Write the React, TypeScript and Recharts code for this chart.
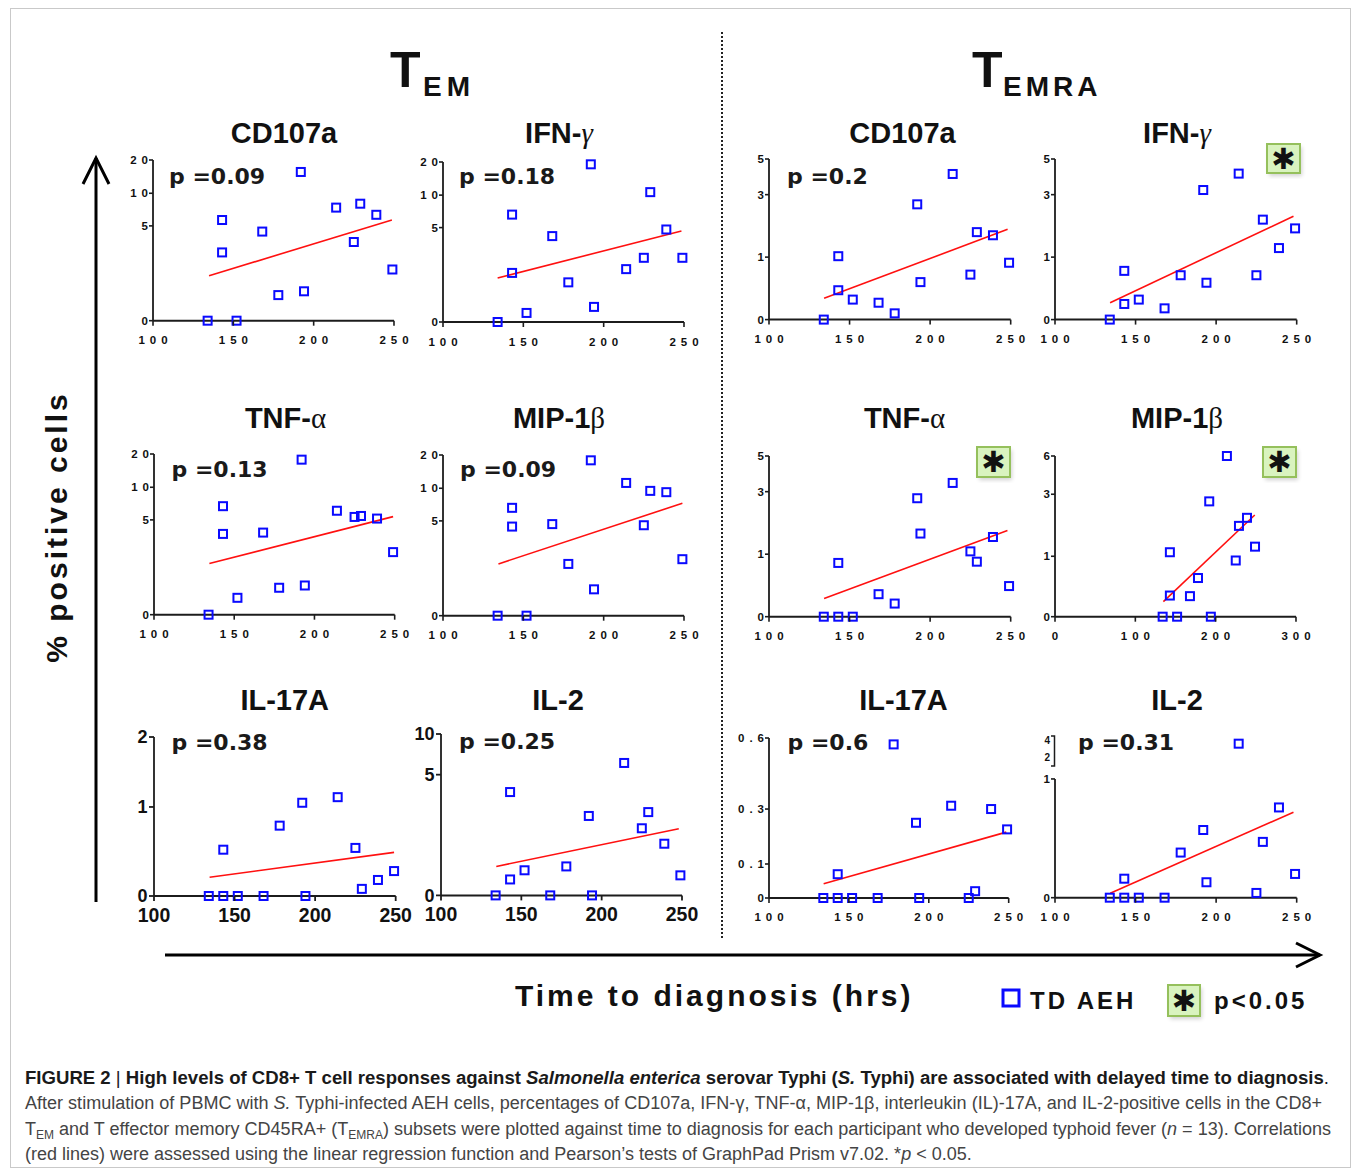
import React from 'react';
import { ScatterChart, Scatter, XAxis, YAxis, ReferenceLine } from 'recharts';

// ---------- DATA ----------
const TIME_HRS = [134, 143, 143, 152, 168, 178, 192, 194, 214, 225, 229, 239, 249];

const TEM_CD107A = [0, 5.9, 3.6, 0, 4.7, 1.35, 16.4, 1.55, 7.8, 4.15, 8.4, 6.7, 2.7];
const TEM_IFNG = [0, 7.0, 2.6, 0.48, 4.55, 2.1, 19.3, 0.8, 2.8, 3.4, 10.9, 4.9, 3.4];
const TEMRA_CD107A = [0, 1.03, 0.47, 0.32, 0.27, 0.1, 2.69, 0.6, 4.16, 0.72, 1.8, 1.7, 0.91];
const TEMRA_IFNG = [0, 0.78, 0.25, 0.32, 0.18, 0.71, 3.26, 0.59, 4.18, 0.71, 2.2, 1.29, 1.92];
const TEM_TNFA = [0, 7.1, 4.26, 0.89, 4.33, 1.42, 18.3, 1.54, 6.4, 5.45, 5.6, 5.2, 3.3];
const TEM_MIP1B = [0, 7.0, 4.7, 0, 4.83, 2.73, 18.4, 1.39, 11.6, 4.77, 9.6, 9.4, 2.98];
const TEMRA_TNFA = [0, 0.86, 0, 0, 0.36, 0.21, 2.79, 1.66, 3.49, 1.09, 0.88, 1.55, 0.49];
const TEMRA_MIP1B = [0, 1.13, 0.35, 0, 0.34, 0.64, 2.77, 0, 6.0, 0.93, 1.98, 2.24, 1.31];
const TEM_IL17A = [0, 0, 0.52, 0, 0, 0.79, 1.06, 0, 1.14, 0.54, 0.08, 0.18, 0.28];
const TEM_IL2 = [0, 0.66, 4.28, 1.04, 0, 1.2, 3.29, 0, 6.44, 2.78, 3.45, 2.14, 0.83];
const TEMRA_IL17A = [0, 0, 0.07, 0, 0, 0.573, 0.25, 0, 0.314, 0, 0.02, 0.3, 0.226];
const TEMRA_IL2 = [0, 0, 0.16, 0, 0, 0.38, 0.57, 0.13, 3.56, 0.04, 0.47, 0.76, 0.2];

// regression line end points: [x start, x end], [y start, y end]
const FIT_TEM_CD107A = { x: [134.9, 248.7], y: [2.37, 5.9] };
const FIT_TEM_IFNG = { x: [134, 248.4], y: [2.33, 4.82] };
const FIT_TEMRA_CD107A = { x: [134.2, 248.1], y: [0.34, 1.89] };
const FIT_TEMRA_IFNG = { x: [134.2, 248], y: [0.27, 2.31] };
const FIT_TEM_TNFA = { x: [134.5, 249], y: [2.7, 5.5] };
const FIT_TEM_MIP1B = { x: [134.5, 249], y: [2.73, 7.7] };
const FIT_TEMRA_TNFA = { x: [134.2, 248], y: [0.29, 1.76] };
const FIT_TEMRA_MIP1B = { x: [134.9, 248.7], y: [0.25, 2.33] };
const FIT_TEM_IL17A = { x: [134.5, 249], y: [0.21, 0.49] };
const FIT_TEM_IL2 = { x: [134.4, 248], y: [1.2, 2.76] };
const FIT_TEMRA_IL17A = { x: [134.2, 248.5], y: [0.042, 0.216] };
const FIT_TEMRA_IL2 = { x: [134.3, 248], y: [0.037, 0.72] };

const X_TICKS = [100, 150, 200, 250];
const X_TICKS_300 = [0, 100, 200, 300];
const Y_TICKS_20 = [0, 5, 10, 20];
const Y_TICKS_5 = [0, 1, 3, 5];
const Y_TICKS_6 = [0, 1, 3, 6];
const Y_TICKS_2 = [0, 1, 2];
const Y_TICKS_10 = [0, 5, 10];
const Y_TICKS_06 = [0, 0.1, 0.3, 0.6];
const Y_TICKS_4 = [0, 1, 2, 4];

// segmented axis: fraction of axis height at each tick
const SEG_20 = [0, 0.59, 0.793, 1];
const SEG_5 = [0, 0.389, 0.778, 1];
const SEG_6 = [0, 0.376, 0.762, 1];
const SEG_2 = [0, 0.56, 1];
const SEG_10 = [0, 0.748, 1];
const SEG_06 = [0, 0.2125, 0.556, 1];
const SEG_4 = [0, 0.753, 0.894, 1];

const P_VALUES = ['0.09', '0.18', '0.2', '0.13', '0.09', '0.38', '0.25', '0.6', '0.31'];

// ---------- CONFIG ----------
const AXIS = '#1c1c1c';
const BLUE = '#0a0aff';
const RED = '#ff1010';

type Cfg = any;

const PANELS: Cfg[] = [
  { title: 'CD107a', ys: TEM_CD107A, fit: FIT_TEM_CD107A, yt: Y_TICKS_20, seg: SEG_20, xt: X_TICKS, box: [153, 160, 241, 160.7], tp: [284, 143], p: P_VALUES[0], pp: [169, 184] },
  { title: 'IFN-', greek: 'γ', ys: TEM_IFNG, fit: FIT_TEM_IFNG, yt: Y_TICKS_20, seg: SEG_20, xt: X_TICKS, box: [443.3, 161.7, 241, 160], tp: [559, 143], p: P_VALUES[1], pp: [459, 184] },
  { title: 'CD107a', ys: TEMRA_CD107A, fit: FIT_TEMRA_CD107A, yt: Y_TICKS_5, seg: SEG_5, xt: X_TICKS, box: [769.3, 158.7, 241.7, 160.6], tp: [902.5, 143], p: P_VALUES[2], pp: [787, 184] },
  { title: 'IFN-', greek: 'γ', ys: TEMRA_IFNG, fit: FIT_TEMRA_IFNG, yt: Y_TICKS_5, seg: SEG_5, xt: X_TICKS, box: [1055, 158.7, 241.7, 160.6], tp: [1177, 143], star: [1267, 144, 33, 29] },
  { title: 'TNF-', greek: 'α', ys: TEM_TNFA, fit: FIT_TEM_TNFA, yt: Y_TICKS_20, seg: SEG_20, xt: X_TICKS, box: [154.3, 454.3, 240.7, 160.7], tp: [285.5, 428], p: P_VALUES[3], pp: [171.5, 476.5] },
  { title: 'MIP-1', greek: 'β', ys: TEM_MIP1B, fit: FIT_TEM_MIP1B, yt: Y_TICKS_20, seg: SEG_20, xt: X_TICKS, box: [443.3, 455, 241, 160.7], tp: [559, 428], p: P_VALUES[4], pp: [460, 476.5] },
  { title: 'TNF-', greek: 'α', ys: TEMRA_TNFA, fit: FIT_TEMRA_TNFA, yt: Y_TICKS_5, seg: SEG_5, xt: X_TICKS, box: [769.3, 456, 241.7, 160.7], tp: [904.5, 428], star: [977, 447, 33, 30] },
  { title: 'MIP-1', greek: 'β', ys: TEMRA_MIP1B, fit: FIT_TEMRA_MIP1B, yt: Y_TICKS_6, seg: SEG_6, xt: X_TICKS_300, box: [1055, 456, 241, 160.7], tp: [1177, 428], star: [1263, 447, 33, 30] },
  { title: 'IL-17A', ys: TEM_IL17A, fit: FIT_TEM_IL17A, yt: Y_TICKS_2, seg: SEG_2, xt: X_TICKS, box: [154.3, 736.7, 241.7, 159], tp: [284.7, 710], p: P_VALUES[5], pp: [171.5, 750], big: true },
  { title: 'IL-2', ys: TEM_IL2, fit: FIT_TEM_IL2, yt: Y_TICKS_10, seg: SEG_10, xt: X_TICKS, box: [440.7, 734.3, 241, 161.4], tp: [558, 710], p: P_VALUES[6], pp: [459, 749], big: true },
  { title: 'IL-17A', ys: TEMRA_IL17A, fit: FIT_TEMRA_IL17A, yt: Y_TICKS_06, seg: SEG_06, xt: X_TICKS, box: [769, 737.7, 239.7, 160], tp: [903.5, 710], p: P_VALUES[7], pp: [787.5, 750] },
  { title: 'IL-2', ys: TEMRA_IL2, fit: FIT_TEMRA_IL2, yt: Y_TICKS_4, seg: SEG_4, xt: X_TICKS, box: [1055, 740, 241.7, 157.7], tp: [1177, 710], p: P_VALUES[8], pp: [1078, 750], broken: true },
];

function segScale(vals: number[], fr: number[], v: number) {
  for (let i = 1; i < vals.length; i++) {
    if (v <= vals[i] || i === vals.length - 1) {
      const t = (v - vals[i - 1]) / (vals[i] - vals[i - 1]);
      return fr[i - 1] + t * (fr[i] - fr[i - 1]);
    }
  }
  return 0;
}

const SMALL = { fontSize: 11.5, ls: 5 };

function YTick(props: any) {
  const { x, y, payload, cfg } = props;
  const idx = cfg.seg.findIndex((f: number) => Math.abs(f - payload.value) < 1e-6);
  const label = idx >= 0 ? String(cfg.yt[idx]) : '';
  const val = idx >= 0 ? cfg.yt[idx] : 0;
  const showTick = !(cfg.broken && val > 1);
  if (cfg.big) {
    return (
      <g>
        <line x1={x - 5} x2={x} y1={y} y2={y} stroke={AXIS} strokeWidth={1.8} />
        <text x={x - 6.5} y={y + 6.5} textAnchor="end" fontSize={18} fontWeight="bold" fontFamily="Liberation Sans, Arial" fill="#111">{label}</text>
      </g>
    );
  }
  const fs = cfg.broken && val > 1 ? 10 : SMALL.fontSize;
  return (
    <g>
      {showTick && <line x1={x - 4} x2={x} y1={y} y2={y} stroke={AXIS} strokeWidth={1.6} />}
      <text x={x - 5 + SMALL.ls} y={y + 4} textAnchor="end" fontSize={fs} fontWeight="bold" letterSpacing={SMALL.ls} fontFamily="Liberation Sans, Arial" fill="#111">{label}</text>
    </g>
  );
}

function XTick(props: any) {
  const { x, y, payload, cfg } = props;
  if (cfg.big) {
    return (
      <g>
        <line x1={x} x2={x} y1={y} y2={y + 5} stroke={AXIS} strokeWidth={1.8} />
        <text x={x} y={y + 26} textAnchor="middle" fontSize={19.5} fontWeight="bold" fontFamily="Liberation Sans, Arial" fill="#111">{payload.value}</text>
      </g>
    );
  }
  return (
    <g>
      <line x1={x} x2={x} y1={y} y2={y + 5} stroke={AXIS} strokeWidth={1.6} />
      <text x={x + SMALL.ls / 2} y={y + 23.5} textAnchor="middle" fontSize={SMALL.fontSize} fontWeight="bold" letterSpacing={SMALL.ls} fontFamily="Liberation Sans, Arial" fill="#111">{payload.value}</text>
    </g>
  );
}

function Square(props: any) {
  const { cx, cy } = props;
  if (cx == null || cy == null) return <g />;
  return <rect x={cx - 4} y={cy - 4} width={8} height={8} fill="none" stroke={BLUE} strokeWidth={2} />;
}

function Panel({ cfg }: { cfg: Cfg }) {
  const [left, top, w, h] = cfg.box;
  const sc = (v: number) => segScale(cfg.yt, cfg.seg, v);
  const pts = TIME_HRS.map((t, i) => ({ x: t, y: sc(cfg.ys[i]) }));
  const fitPts = [
    { x: cfg.fit.x[0], y: sc(cfg.fit.y[0]) },
    { x: cfg.fit.x[1], y: sc(cfg.fit.y[1]) },
  ];
  const xd = [cfg.xt[0], cfg.xt[cfg.xt.length - 1]];
  return (
    <div style={{ position: 'absolute', left: left - 60, top: top - 10 }}>
      <ScatterChart width={w + 80} height={h + 50} margin={{ top: 10, right: 20, bottom: 0, left: 20 }}>
        <XAxis type="number" dataKey="x" domain={xd} ticks={cfg.xt} interval={0} height={40}
          tickSize={0} tickMargin={0} tickLine={false} axisLine={{ stroke: AXIS, strokeWidth: 2 }}
          tick={(p: any) => <XTick {...p} cfg={cfg} />} />
        <YAxis type="number" dataKey="y" domain={[0, 1]} ticks={cfg.seg} interval={0} width={40}
          tickSize={0} tickMargin={0} tickLine={false}
          axisLine={cfg.broken ? false : { stroke: AXIS, strokeWidth: 1.8 }}
          tick={(p: any) => <YTick {...p} cfg={cfg} />} />
        {cfg.broken && (
          <ReferenceLine segment={[{ x: xd[0], y: 0 }, { x: xd[0], y: sc(1) }]} stroke={AXIS} strokeWidth={1.8} />
        )}
        <Scatter data={fitPts} line={{ stroke: RED, strokeWidth: 1.6 }} shape={() => <g />} isAnimationActive={false} legendType="none" />
        <Scatter data={pts} shape={(p: any) => <Square {...p} />} isAnimationActive={false} legendType="none" />
      </ScatterChart>
    </div>
  );
}

function StarBox({ b }: { b: number[] }) {
  const [x, y, w, h] = b;
  return (
    <g>
      <rect x={x + 2} y={y + 3} width={w} height={h} fill="#000" opacity={0.18} filter="url(#blur)" />
      <rect x={x} y={y} width={w} height={h} fill="#d9f3bf" stroke="#95c05c" strokeWidth={2} />
      <text x={x + w / 2} y={y + h / 2 + 10} textAnchor="middle" fontSize={29} fontWeight="bold" fontFamily="DejaVu Sans" fill="#111">✱</text>
    </g>
  );
}

const CAP_FONT = 'Liberation Sans, Arial, sans-serif';

export default function App() {
  return (
    <div style={{ position: 'absolute', left: 0, top: 0, width: 1358, height: 1169, background: '#fff', overflow: 'hidden' }}>
      <div style={{ position: 'absolute', left: 10, top: 8, width: 1339, height: 1158, border: '1px solid #c9c9c9' }} />
      {PANELS.map((c, i) => <Panel key={i} cfg={c} />)}
      <svg width={1358} height={1169} style={{ position: 'absolute', left: 0, top: 0, pointerEvents: 'none' }}>
        <defs>
          <filter id="blur"><feGaussianBlur stdDeviation="2" /></filter>
        </defs>
        {/* divider */}
        <line x1={722} x2={722} y1={32} y2={940} stroke="#222" strokeWidth={2} strokeDasharray="2 2" />
        {/* arrows */}
        <line x1={96} x2={96} y1={902} y2={158} stroke="#000" strokeWidth={3} />
        <polyline points="83,184 96,158 109,184" fill="none" stroke="#000" strokeWidth={3} />
        <line x1={165} x2={1320} y1={955} y2={955} stroke="#000" strokeWidth={3} />
        <polyline points="1296,943 1320,955 1296,967" fill="none" stroke="#000" strokeWidth={3} />
        {/* group titles */}
        <g fontFamily="Liberation Sans, Arial" fontWeight="bold" fill="#111">
          <text x={390} y={87} fontSize={50}>T</text>
          <text x={423} y={96} fontSize={28} letterSpacing={5}>EM</text>
          <text x={972} y={87} fontSize={50}>T</text>
          <text x={1003} y={96} fontSize={28} letterSpacing={4}>EMRA</text>
        </g>
        {/* panel titles and p values */}
        {PANELS.map((c, i) => (
          <g key={i}>
            <text x={c.tp[0]} y={c.tp[1]} textAnchor="middle" fontSize={29} fontWeight="bold" fontFamily="Liberation Sans, Arial" fill="#111">
              {c.title}
              {c.greek && <tspan fontFamily="Liberation Serif" fontWeight="normal" fontStyle={c.greek === 'γ' ? 'italic' : 'normal'}>{c.greek}</tspan>}
            </text>
            {c.p && (
              <text x={c.pp[0]} y={c.pp[1]} fontSize={22} fontWeight="bold" fontFamily="DejaVu Sans" fill="#1a1a1a">p =<tspan>{c.p}</tspan></text>
            )}
            {c.star && <StarBox b={c.star} />}
          </g>
        ))}
        {/* broken-axis bracket for TEMRA IL-2 */}
        <polyline points="1051,736 1054.5,736 1054.5,766 1051,766" fill="none" stroke={AXIS} strokeWidth={1.5} />
        {/* axis titles */}
        <text transform="translate(67,527) rotate(-90)" textAnchor="middle" fontSize={30} fontWeight="bold" letterSpacing={3} fontFamily="Liberation Sans, Arial" fill="#111">% positive cells</text>
        <text x={515} y={1006} fontSize={30} fontWeight="bold" letterSpacing={3} fontFamily="Liberation Sans, Arial" fill="#111">Time to diagnosis (hrs)</text>
        {/* legend */}
        <rect x={1003} y={990} width={16} height={16} fill="none" stroke={BLUE} strokeWidth={3} />
        <text x={1030} y={1009} fontSize={24} fontWeight="bold" letterSpacing={3} fontFamily="Liberation Sans, Arial" fill="#111">TD AEH</text>
        <StarBox b={[1168, 985, 32, 31]} />
        <text x={1214} y={1009} fontSize={24} fontWeight="bold" letterSpacing={3} fontFamily="Liberation Sans, Arial" fill="#111">p&lt;0.05</text>
        {/* caption */}
        <g fontFamily={CAP_FONT} fontSize={18}>
          <text x={25} y={1084} textLength={1304} lengthAdjust="spacingAndGlyphs" fill="#1a1a1a">
            <tspan fontWeight="bold">FIGURE 2</tspan> | <tspan fontWeight="bold">High levels of CD8+ T cell responses against <tspan fontStyle="italic">Salmonella enterica</tspan> serovar Typhi (<tspan fontStyle="italic">S.</tspan> Typhi) are associated with delayed time to diagnosis</tspan>.
          </text>
          <text x={25} y={1109} textLength={1297} lengthAdjust="spacingAndGlyphs" fill="#444">
            After stimulation of PBMC with <tspan fontStyle="italic">S.</tspan> Typhi-infected AEH cells, percentages of CD107a, IFN-γ, TNF-α, MIP-1β, interleukin (IL)-17A, and IL-2-positive cells in the CD8+
          </text>
          <text x={25} y={1135} textLength={1306} lengthAdjust="spacingAndGlyphs" fill="#444">
            T<tspan fontSize={12} dy={4}>EM</tspan><tspan dy={-4}> and T effector memory CD45RA+ (T</tspan><tspan fontSize={12} dy={4}>EMRA</tspan><tspan dy={-4}>) subsets were plotted against time to diagnosis for each participant who developed typhoid fever (</tspan><tspan fontStyle="italic">n</tspan> = 13). Correlations
          </text>
          <text x={25} y={1160} fill="#444">
            (red lines) were assessed using the linear regression function and Pearson’s tests of GraphPad Prism v7.02. *<tspan fontStyle="italic">p</tspan> &lt; 0.05.
          </text>
        </g>
      </svg>
    </div>
  );
}
